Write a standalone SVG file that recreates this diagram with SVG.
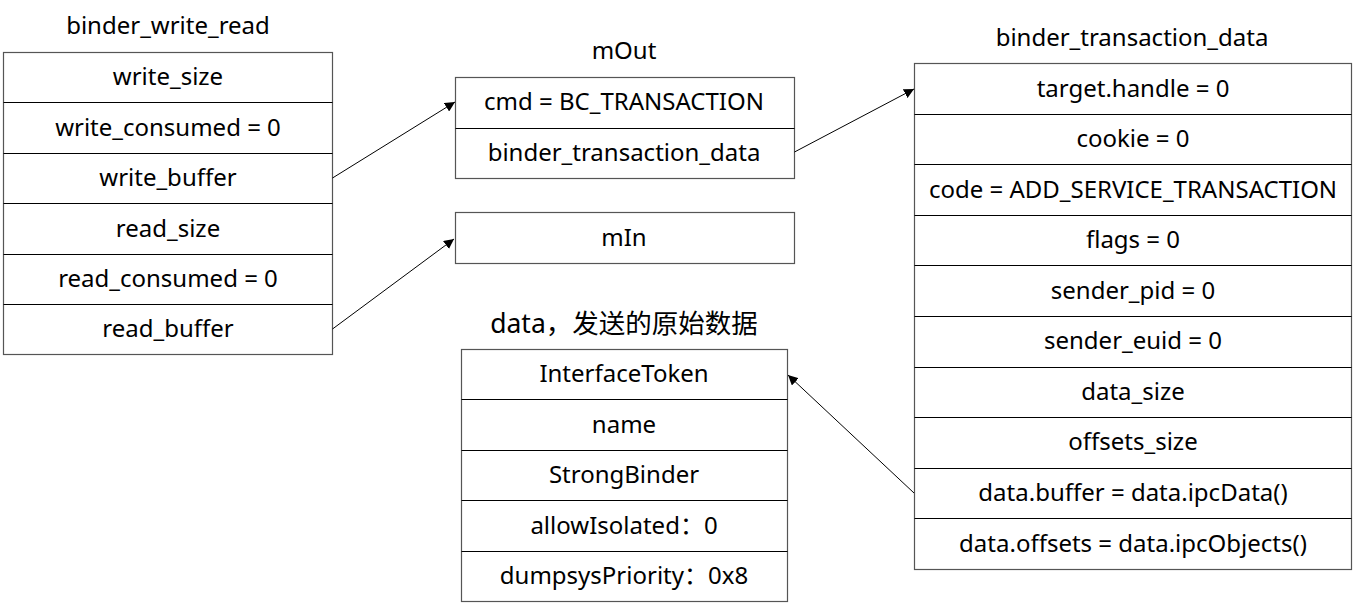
<svg xmlns="http://www.w3.org/2000/svg" width="1358" height="608" viewBox="0 0 1358 608">
<style>
text{font-family:"Noto Sans","Noto Sans CJK SC",sans-serif;font-size:24px;fill:#000;text-anchor:middle}
.box{fill:#fff;stroke:#555;stroke-width:1.2}
.div{stroke:#000;stroke-width:1}
.conn{stroke:#000;stroke-width:1;fill:none;marker-end:url(#arr)}
</style>
<defs>
<marker id="arr" viewBox="0 0 10 10" refX="10" refY="5" markerWidth="10" markerHeight="10" markerUnits="userSpaceOnUse" orient="auto">
<path d="M0,0 L10,5 L0,10 z" fill="#000"/>
</marker>
</defs>
<rect width="1358" height="608" fill="#fff"/>
<g id="binder_write_read">
<text x="168" y="34">binder_write_read</text>
<rect class="box" x="3.5" y="52.5" width="329" height="302"/>
<line class="div" x1="3.5" y1="102.5" x2="332.5" y2="102.5"/>
<line class="div" x1="3.5" y1="153.5" x2="332.5" y2="153.5"/>
<line class="div" x1="3.5" y1="203.5" x2="332.5" y2="203.5"/>
<line class="div" x1="3.5" y1="254.5" x2="332.5" y2="254.5"/>
<line class="div" x1="3.5" y1="304.5" x2="332.5" y2="304.5"/>
<text x="168" y="85">write_size</text>
<text x="168" y="136">write_consumed = 0</text>
<text x="168" y="186">write_buffer</text>
<text x="168" y="237">read_size</text>
<text x="168" y="287">read_consumed = 0</text>
<text x="168" y="337">read_buffer</text>
</g>
<g id="mOut">
<text x="624" y="59">mOut</text>
<rect class="box" x="455.5" y="77.5" width="339" height="101"/>
<line class="div" x1="455.5" y1="128.5" x2="794.5" y2="128.5"/>
<text x="624" y="110">cmd = BC_TRANSACTION</text>
<text x="624" y="161">binder_transaction_data</text>
</g>
<g id="mIn">
<rect class="box" x="455.5" y="212.5" width="339" height="51"/>
<text x="624" y="246">mIn</text>
</g>
<g id="data">
<text x="624" y="333" style="font-size:26.5px">data，发送的原始数据</text>
<rect class="box" x="461.5" y="349.5" width="326" height="252"/>
<line class="div" x1="461.5" y1="399.5" x2="787.5" y2="399.5"/>
<line class="div" x1="461.5" y1="450.5" x2="787.5" y2="450.5"/>
<line class="div" x1="461.5" y1="500.5" x2="787.5" y2="500.5"/>
<line class="div" x1="461.5" y1="551.5" x2="787.5" y2="551.5"/>
<text x="624" y="382">InterfaceToken</text>
<text x="624" y="433">name</text>
<text x="624" y="483">StrongBinder</text>
<text x="624" y="534">allowIsolated：0</text>
<text x="624" y="584">dumpsysPriority：0x8</text>
</g>
<g id="binder_transaction_data">
<text x="1132" y="46">binder_transaction_data</text>
<rect class="box" x="914.5" y="63.5" width="437" height="506"/>
<line class="div" x1="914.5" y1="114.5" x2="1351.5" y2="114.5"/>
<line class="div" x1="914.5" y1="164.5" x2="1351.5" y2="164.5"/>
<line class="div" x1="914.5" y1="215.5" x2="1351.5" y2="215.5"/>
<line class="div" x1="914.5" y1="265.5" x2="1351.5" y2="265.5"/>
<line class="div" x1="914.5" y1="316.5" x2="1351.5" y2="316.5"/>
<line class="div" x1="914.5" y1="367.5" x2="1351.5" y2="367.5"/>
<line class="div" x1="914.5" y1="417.5" x2="1351.5" y2="417.5"/>
<line class="div" x1="914.5" y1="468.5" x2="1351.5" y2="468.5"/>
<line class="div" x1="914.5" y1="518.5" x2="1351.5" y2="518.5"/>
<text x="1133" y="97">target.handle = 0</text>
<text x="1133" y="147">cookie = 0</text>
<text x="1133" y="198">code = ADD_SERVICE_TRANSACTION</text>
<text x="1133" y="248">flags = 0</text>
<text x="1133" y="299">sender_pid = 0</text>
<text x="1133" y="349">sender_euid = 0</text>
<text x="1133" y="400">data_size</text>
<text x="1133" y="450">offsets_size</text>
<text x="1133" y="501">data.buffer = data.ipcData()</text>
<text x="1133" y="552">data.offsets = data.ipcObjects()</text>
</g>
<g id="connectors">
<line class="conn" x1="332.5" y1="178" x2="455" y2="102"/>
<line class="conn" x1="332.5" y1="329" x2="454" y2="239"/>
<line class="conn" x1="794.5" y1="152" x2="914" y2="89"/>
<line class="conn" x1="914" y1="493" x2="788" y2="375"/>
</g>
</svg>
